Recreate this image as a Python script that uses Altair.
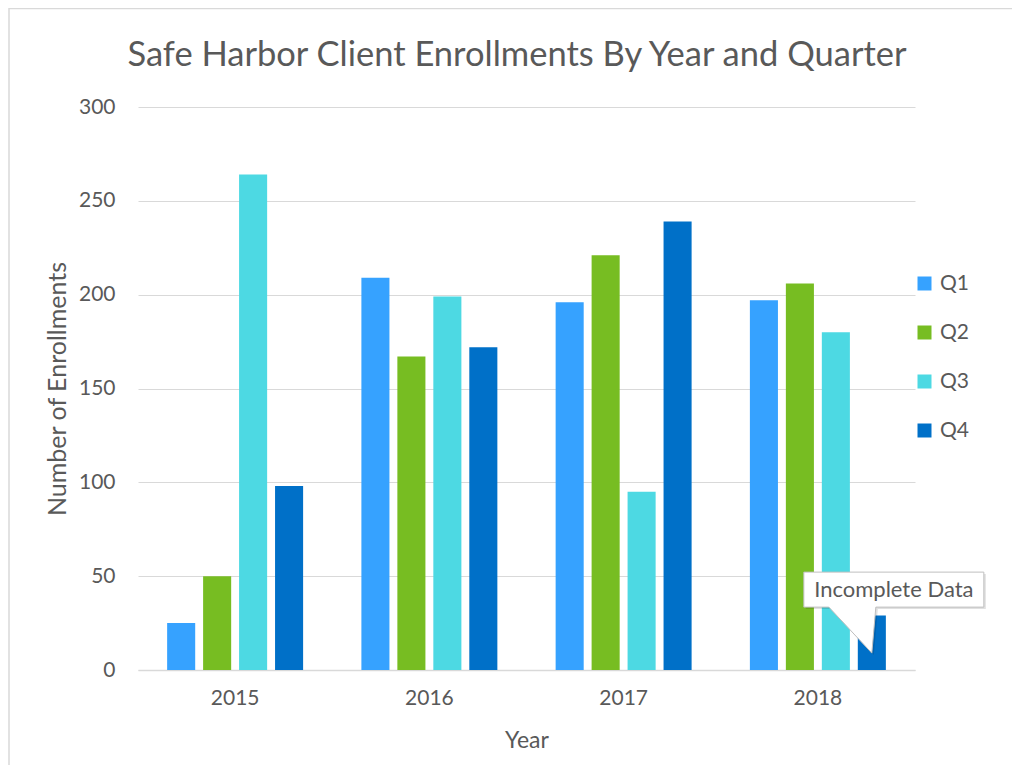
import altair as alt
import pandas as pd

years = ["2015", "2016", "2017", "2018"]
quarters = ["Q1", "Q2", "Q3", "Q4"]
q1 = [25, 209, 196, 197]
q2 = [50, 167, 221, 206]
q3 = [264, 199, 95, 180]
q4 = [98, 172, 239, 29]
colors = ["#36A2FF", "#77BD22", "#4DD9E3", "#0070C8"]

title_text = ["Safe Harbor Client Enrollments By Year and Quarter"]
note_text = ["Incomplete Data"]
note_year = ["2018"]
note_quarter = ["Q4"]
note_value = [9]

rows = []
for qi, series in enumerate([q1, q2, q3, q4]):
    for yi, v in enumerate(series):
        rows.append({"Year": years[yi], "Quarter": quarters[qi], "Enrollments": v})
df = pd.DataFrame(rows)
note_df = pd.DataFrame({"Year": note_year, "Quarter": note_quarter,
                        "Enrollments": note_value, "label": note_text})
title_df = pd.DataFrame({"t": title_text})

FONT = "Lato"
GREY = "#595959"

x_enc = alt.X("Year:N", sort=years,
              scale=alt.Scale(paddingInner=0.3, paddingOuter=0.15),
              axis=alt.Axis(title="Year", labelAngle=0, ticks=False,
                            labelPadding=17, labelFontSize=21, labelColor=GREY,
                            titleFontSize=23, titleColor=GREY, titleFontWeight="normal",
                            titleY=70, titleBaseline="middle",
                            domainColor="#D9D9D9", domainWidth=1.5))
xo_enc = alt.XOffset("Quarter:N", sort=quarters, scale=alt.Scale(paddingInner=0.22))
y_enc = alt.Y("Enrollments:Q",
              scale=alt.Scale(domain=[0, 300], nice=False),
              axis=alt.Axis(title="Number of Enrollments", values=[0, 50, 100, 150, 200, 250, 300],
                            ticks=False, domain=False, labelPadding=23,
                            labelFontSize=21, labelColor=GREY,
                            gridColor="#D9D9D9", gridWidth=1,
                            titleFontSize=25, titleColor=GREY, titleFontWeight="normal",
                            titleX=-81, titleY=281.5, titleAngle=-90, titleBaseline="middle",
                            titleAlign="center"))

bars = alt.Chart(df).mark_bar().encode(
    x=x_enc, xOffset=xo_enc, y=y_enc,
    color=alt.Color("Quarter:N", sort=quarters,
                    scale=alt.Scale(domain=quarters, range=colors),
                    legend=alt.Legend(title=None, orient="none", legendX=776, legendY=166,
                                      symbolType="square", symbolSize=196,
                                      symbolStrokeWidth=0, labelFontSize=21,
                                      labelColor=GREY, labelOffset=5, rowPadding=27,
                                      padding=0)),
)

callout_path = "M -68 -81 L 112 -81 L 112 -46 L 4 -46 L 0 0 L -43 -46 L -68 -46 Z"
shadow_path = "M -66 -79 L 114 -79 L 114 -44 L 6 -44 L 2 2 L -41 -44 L -66 -44 Z"

shadow = alt.Chart(note_df).mark_point(
    shape=shadow_path, size=4, filled=True, fill="#000000", fillOpacity=0.12,
    strokeWidth=0, opacity=1
).encode(x=alt.X("Year:N", sort=years), xOffset=alt.XOffset("Quarter:N", sort=quarters),
         y="Enrollments:Q")

callout = alt.Chart(note_df).mark_point(
    shape=callout_path, size=4, filled=True, fill="white", stroke="#BFBFBF",
    strokeWidth=1, opacity=1
).encode(x=alt.X("Year:N", sort=years), xOffset=alt.XOffset("Quarter:N", sort=quarters),
         y="Enrollments:Q")

note = alt.Chart(note_df).mark_text(
    dx=22, dy=-63, fontSize=22, color=GREY, font=FONT, align="center", baseline="middle"
).encode(x=alt.value(None) if False else alt.X("Year:N", sort=years),
         xOffset=alt.XOffset("Quarter:N", sort=quarters),
         y="Enrollments:Q", text="label:N")

title = alt.Chart(title_df).mark_text(
    fontSize=34.5, color=GREY, font=FONT, align="center", baseline="alphabetic"
).encode(x=alt.value(379), y=alt.value(-41), text="t:N")

frame_df = pd.DataFrame({"k": [0]})
frame = alt.Chart(frame_df).mark_rect(
    fill="white", fillOpacity=0, stroke="#D9D9D9", strokeWidth=1.5
).encode(x=alt.value(-129), x2=alt.value(1200), y=alt.value(-98.5), y2=alt.value(1200))

chart = alt.layer(frame, bars, shadow, callout, note, title).properties(
    width=777, height=563,
    autosize=alt.AutoSizeParams(type="none"),
    padding={"left": 130, "top": 99, "right": 97, "bottom": 95},
).configure(font=FONT).configure_view(stroke=None).configure_axis(
    labelFont=FONT, titleFont=FONT
).configure_legend(labelFont=FONT)

chart.save("out.html", embed_options={"renderer": "svg", "actions": False})
